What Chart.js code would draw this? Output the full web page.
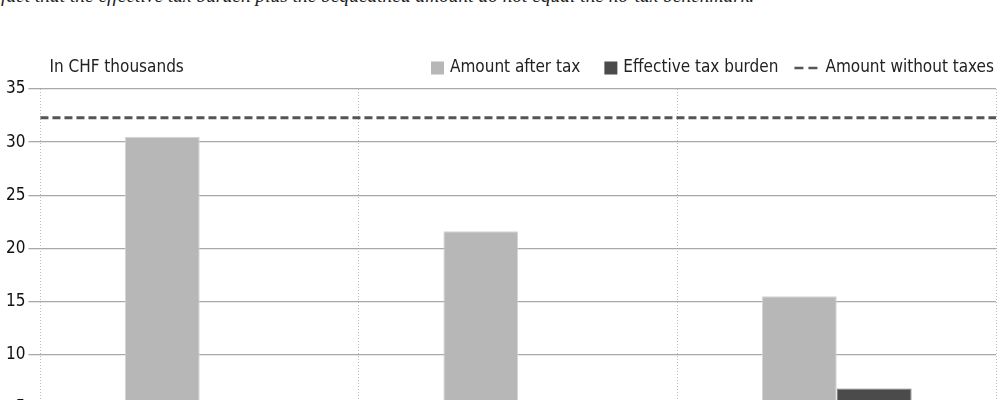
<!DOCTYPE html>
<html>
<head>
<meta charset="utf-8">
<script src="https://cdn.jsdelivr.net/npm/chart.js@4.4.0/dist/chart.umd.min.js"></script>
<style>
  html, body { margin: 0; padding: 0; background: #fff; overflow: hidden; }
  #wrap { position: relative; width: 1000px; height: 400px; overflow: hidden; }
  #caption {
    position: absolute; left: 1px; top: -14px;
    font: italic 19.4px/19px "Liberation Serif", serif; color: #222; white-space: nowrap;
  }
  #box { position: absolute; left: 0; top: 0; width: 1000px; height: 474px; }
</style>
</head>
<body>
<div id="wrap">
  <div id="caption">fact that the effective tax burden plus the bequeathed amount do not equal the no-tax benchmark.</div>
  <div id="box"><canvas id="chart" width="1000" height="474"></canvas></div>
</div>
<script>
// Données (en milliers de CHF)
const categories = ['Case 1', 'Case 2', 'Case 3'];
const amountAfterTax = [30.5, 21.6, 15.5];
const effectiveTaxBurden = [1.8, 4.0, 6.8];
const amountWithoutTaxes = 32.3;
const yTicks = [0, 5, 10, 15, 20, 25, 30, 35];

const FONT = '"DejaVu Sans Condensed", sans-serif';
const LINE_COLOR = '#555';

// Ligne "sans impôts" : tirets sur toute la largeur, placée via l'échelle y
const noTaxLine = {
    id: 'noTaxLine',
    afterDatasetsDraw(chart) {
        const ctx = chart.ctx;
        const area = chart.chartArea;
        const y = chart.scales.y.getPixelForValue(amountWithoutTaxes);
        ctx.save();
        ctx.strokeStyle = LINE_COLOR;
        ctx.lineWidth = 3;
        ctx.setLineDash([8, 4]);
        ctx.beginPath();
        ctx.moveTo(area.left, y);
        ctx.lineTo(area.right, y);
        ctx.stroke();
        ctx.restore();
    }
};

// Légende dessinée à la main (tailles de pastilles différentes)
const legendPlugin = {
    id: 'legendMaison',
    afterDraw(chart) {
        const ctx = chart.ctx;
        const area = chart.chartArea;
        const y = 68;
        ctx.save();
        ctx.font = '17px ' + FONT;
        ctx.fillStyle = '#222';
        ctx.textBaseline = 'middle';
        ctx.textAlign = 'left';
        ctx.fillText('In CHF thousands', area.left + 9, y);

        const items = chart.data.datasets.map(ds => ({
            text: ds.label, type: 'bar', color: ds.backgroundColor
        }));
        items.push({ text: 'Amount without taxes', type: 'line', color: LINE_COLOR });

        let x = area.right - 2;
        for (let i = items.length - 1; i >= 0; i--) {
            const it = items[i];
            const w = ctx.measureText(it.text).width;
            x -= w;
            ctx.fillStyle = '#222';
            ctx.fillText(it.text, x, y);
            if (it.type === 'line') {
                x -= 31;
                ctx.strokeStyle = it.color;
                ctx.lineWidth = 2.5;
                ctx.setLineDash([9, 5]);
                ctx.beginPath();
                ctx.moveTo(x, y);
                ctx.lineTo(x + 24, y);
                ctx.stroke();
                ctx.setLineDash([]);
                x -= 16;
            } else {
                x -= 19;
                ctx.fillStyle = it.color;
                ctx.fillRect(x, y - 6.5, 13, 13);
                x -= 24;
            }
        }
        ctx.restore();
    }
};

new Chart(document.getElementById('chart').getContext('2d'), {
    type: 'bar',
    data: {
        labels: categories,
        datasets: [{
            label: 'Amount after tax',
            data: amountAfterTax,
            backgroundColor: '#b7b7b7',
            borderColor: '#d4d4d4',
            borderWidth: 1
        }, {
            label: 'Effective tax burden',
            data: effectiveTaxBurden,
            backgroundColor: '#4b4b4b',
            borderColor: '#7a7a7a',
            borderWidth: 1
        }]
    },
    options: {
        responsive: false,
        animation: false,
        devicePixelRatio: 1,
        layout: { padding: { top: 89, right: 4, bottom: 3, left: 3 } },
        datasets: {
            bar: { categoryPercentage: 0.47, barPercentage: 1.0 }
        },
        plugins: {
            legend: { display: false },
            tooltip: { enabled: false }
        },
        scales: {
            x: {
                offset: true,
                ticks: { display: false },
                grid: {
                    offset: true,
                    color: '#bdbdbd',
                    lineWidth: 1,
                    drawTicks: false
                },
                border: { display: false, dash: [1, 2] }
            },
            y: {
                min: 0,
                max: 35,
                afterBuildTicks: scale => { scale.ticks = yTicks.map(v => ({ value: v })); },
                ticks: {
                    color: '#111',
                    padding: 3,
                    font: { family: FONT, size: 17 }
                },
                grid: {
                    color: '#a9a9a9',
                    lineWidth: 1.3,
                    tickLength: 12
                },
                border: { display: false }
            }
        }
    },
    plugins: [noTaxLine, legendPlugin]
});
</script>
</body>
</html>
